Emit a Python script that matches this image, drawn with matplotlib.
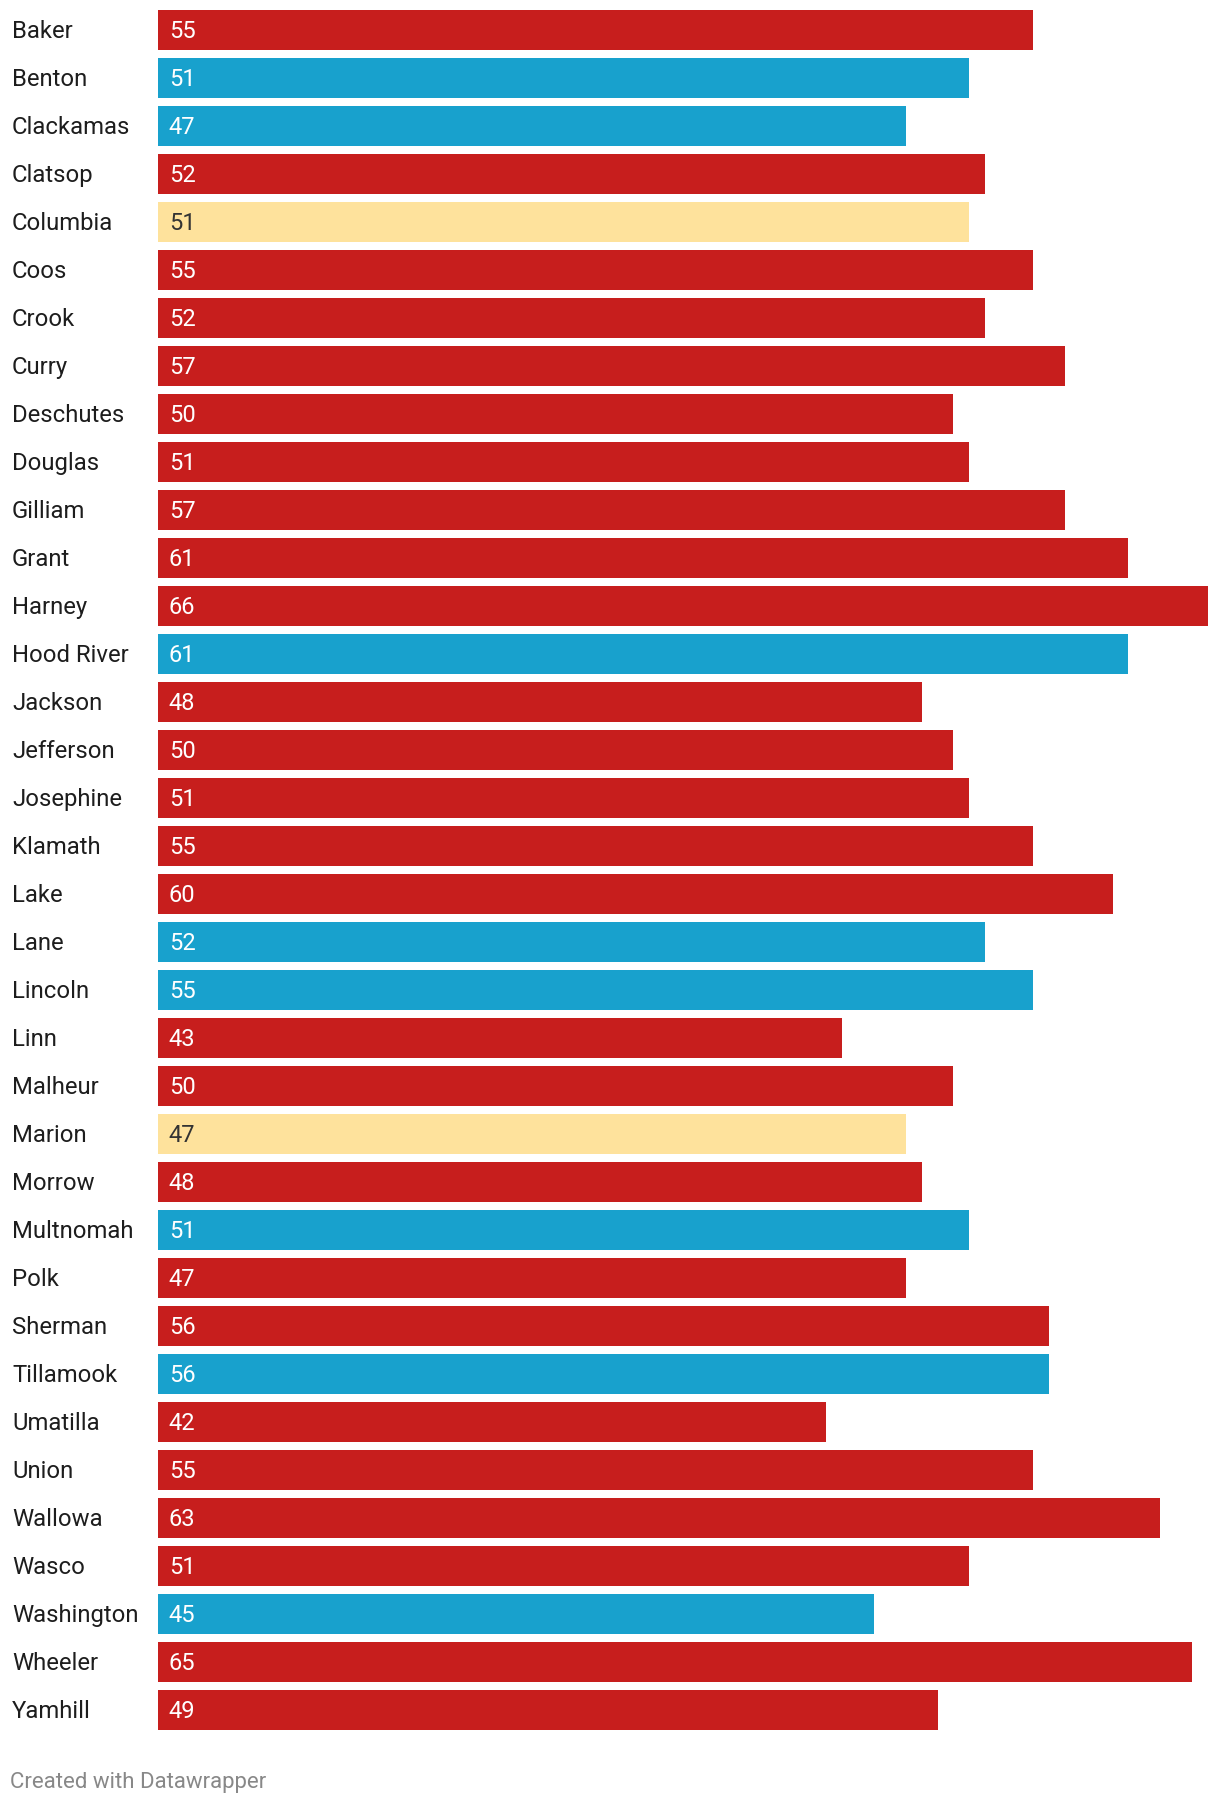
import matplotlib.pyplot as plt
import matplotlib.transforms as mtransforms

plt.rcParams['font.family'] = ['Roboto', 'DejaVu Sans']

counties = ["Baker", "Benton", "Clackamas", "Clatsop", "Columbia", "Coos", "Crook",
            "Curry", "Deschutes", "Douglas", "Gilliam", "Grant", "Harney", "Hood River",
            "Jackson", "Jefferson", "Josephine", "Klamath", "Lake", "Lane", "Lincoln",
            "Linn", "Malheur", "Marion", "Morrow", "Multnomah", "Polk", "Sherman",
            "Tillamook", "Umatilla", "Union", "Wallowa", "Wasco", "Washington",
            "Wheeler", "Yamhill"]
values = [55, 51, 47, 52, 51, 55, 52, 57, 50, 51, 57, 61, 66, 61, 48, 50, 51, 55, 60,
          52, 55, 43, 50, 47, 48, 51, 47, 56, 56, 42, 55, 63, 51, 45, 65, 49]
# R = red, D = blue, T = tie/yellow
groups = ["R", "D", "D", "R", "T", "R", "R", "R", "R", "R", "R", "R", "R", "D", "R",
          "R", "R", "R", "R", "D", "D", "R", "R", "T", "R", "D", "R", "R", "D", "R",
          "R", "R", "R", "D", "R", "R"]

colors = {"R": "#c71e1d", "D": "#18a1cd", "T": "#fee29c"}
text_colors = {"R": "white", "D": "white", "T": "#333333"}

W, H = 1220, 1806
fig = plt.figure(figsize=(W / 100, H / 100), dpi=100)
ax = fig.add_axes([158 / W, 1 - 1735 / H, 1050 / W, 1728 / H])

pos = list(range(len(counties)))
ax.barh(pos, values, height=40 / 48, color=[colors[g] for g in groups])
ax.set_xlim(0, max(values))
ax.set_ylim(len(counties) - 0.5, -0.5)
ax.axis("off")

trans = mtransforms.blended_transform_factory(fig.transFigure, ax.transData)
for i, (name, v, g) in enumerate(zip(counties, values, groups)):
    ax.text(12 / W, i + 0.02, name, transform=trans, ha="left", va="center",
            fontsize=17.2, color="#1d1d1d")
    ax.text(0.68, i + 0.01, str(v), ha="left", va="center", fontsize=17,
            color=text_colors[g])

fig.text(10 / W, 1 - 1783 / H, "Created with Datawrapper", ha="left", va="center",
         fontsize=16, color="#888888")

fig.savefig("out.png", dpi=100, facecolor="white")
